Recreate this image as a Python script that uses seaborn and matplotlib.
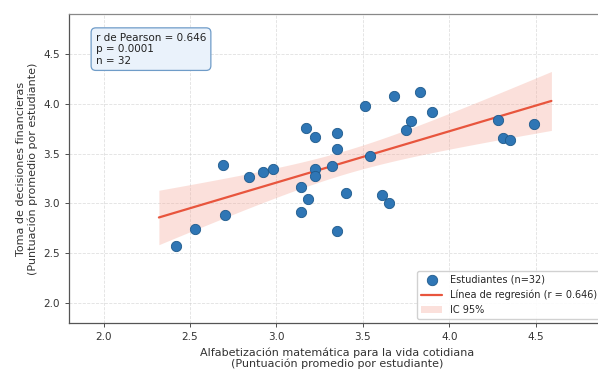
import numpy as np
import pandas as pd
import matplotlib
matplotlib.use("Agg")
import matplotlib.pyplot as plt
import seaborn as sns
from matplotlib.patches import Patch
from matplotlib.lines import Line2D

alfabetizacion = [2.42, 2.53, 2.70, 2.69, 2.84, 2.92, 2.98,
                  3.17, 3.22, 3.35, 3.35, 3.51, 3.68, 3.83, 3.90, 3.78, 3.75,
                  3.54, 3.32, 3.22, 3.22, 3.14, 3.18, 3.14, 3.40, 3.61, 3.65, 3.35,
                  4.28, 4.31, 4.35, 4.49]
decisiones = [2.57, 2.74, 2.88, 3.39, 3.26, 3.31, 3.35,
              3.76, 3.67, 3.71, 3.55, 3.98, 4.08, 4.12, 3.92, 3.83, 3.74,
              3.48, 3.38, 3.35, 3.27, 3.16, 3.04, 2.91, 3.10, 3.08, 3.00, 2.72,
              3.84, 3.66, 3.64, 3.80]

r_text = "r de Pearson = 0.646\np = 0.0001\nn = 32"
xlabel = "Alfabetización matemática para la vida cotidiana\n(Puntuación promedio por estudiante)"
ylabel = "Toma de decisiones financieras\n(Puntuación promedio por estudiante)"

df = pd.DataFrame({"x": alfabetizacion, "y": decisiones})
x = df["x"].to_numpy()
y = df["y"].to_numpy()
n = len(x)
b1, b0 = np.polyfit(x, y, 1)
xl = np.linspace(x.min() - 0.1, x.max() + 0.1, 100)
yl = b0 + b1 * xl
resid = y - (b0 + b1 * x)
s = np.sqrt(np.sum(resid ** 2) / (n - 2))
tval = 2.042
se = s * np.sqrt(1 / n + (xl - x.mean()) ** 2 / np.sum((x - x.mean()) ** 2))
line_df = pd.DataFrame({"x": xl, "y": yl})

sns.set_style("white")
plt.rcParams['font.family'] = ['DejaVu Sans']

fig = plt.figure(figsize=(5.98, 3.70), dpi=100)
ax = fig.add_axes([69 / 598, 47 / 370, 536 / 598, 309 / 370])

line_color = "#e8553d"
pt_color = "#2f76b5"
band_color = "#f5a898"

ax.fill_between(xl, yl - tval * se, yl + tval * se, color=band_color, alpha=0.35, lw=0, zorder=1)
sns.lineplot(data=line_df, x="x", y="y", ax=ax, color=line_color, lw=1.6, zorder=2)
sns.scatterplot(data=df, x="x", y="y", ax=ax, s=55, color=pt_color,
                edgecolor="#1f5a8c", linewidth=0.6, zorder=3)

ax.set_xlim(1.8, 4.9)
ax.set_ylim(1.8, 4.9)
ax.set_xticks([2.0, 2.5, 3.0, 3.5, 4.0, 4.5])
ax.set_yticks([2.0, 2.5, 3.0, 3.5, 4.0, 4.5])
ax.grid(True, linestyle="--", color="#cccccc", alpha=0.6, lw=0.6)
ax.tick_params(axis="both", labelsize=7.5, length=3, width=0.6, colors="#333333",
               bottom=True, left=True)
for sp in ax.spines.values():
    sp.set_color("#555555")
    sp.set_linewidth(0.9)
ax.spines["top"].set_color("#888888")

ax.set_xlabel(xlabel, fontsize=8, color="#333333", linespacing=1.1)
ax.set_ylabel(ylabel, fontsize=8, color="#333333", linespacing=1.1)

ax.text(0.05, 0.94, r_text, transform=ax.transAxes, fontsize=7.5, va="top", ha="left",
        linespacing=1.2, color="#222222",
        bbox=dict(boxstyle="round,pad=0.45", facecolor="#eaf2fb", edgecolor="#6f9cc8", lw=0.9))

handles = [
    Line2D([], [], marker="o", ls="", markersize=7.5, markerfacecolor=pt_color,
           markeredgecolor="#1f5a8c", markeredgewidth=0.6),
    Line2D([], [], color=line_color, lw=1.6),
    Patch(facecolor=band_color, alpha=0.35, edgecolor="none"),
]
labels = ["Estudiantes (n=32)", "Línea de regresión (r = 0.646)", "IC 95%"]
ax.legend(handles, labels, loc="lower right", fontsize=7, frameon=True,
          framealpha=0.9, edgecolor="#cccccc", borderaxespad=0.4, handlelength=2.2)

fig.savefig("out.png", dpi=100)
